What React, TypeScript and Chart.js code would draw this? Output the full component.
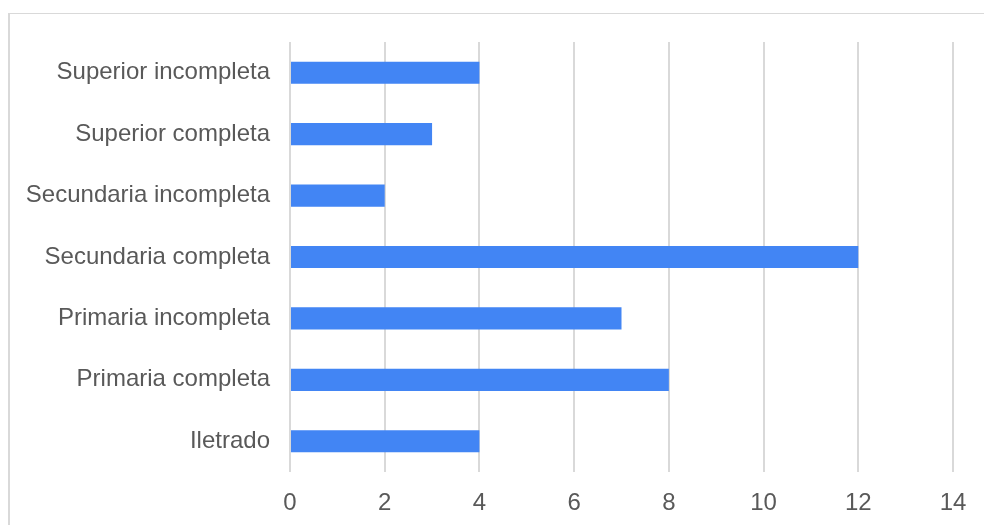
import React, { useEffect, useRef } from "react";
import { Chart, registerables } from "chart.js";

Chart.register(...registerables);

const categories = [
  "Superior incompleta",
  "Superior completa",
  "Secundaria incompleta",
  "Secundaria completa",
  "Primaria incompleta",
  "Primaria completa",
  "Iletrado",
];
const values = [4, 3, 2, 12, 7, 8, 4];
const xMin = 0;
const xMax = 14;
const xStep = 2;

const FONT = "'Liberation Sans', Arial, sans-serif";

export default function App() {
  const ref = useRef<HTMLCanvasElement | null>(null);

  useEffect(() => {
    if (!ref.current) return;
    const chart = new Chart(ref.current, {
      type: "bar",
      data: {
        labels: categories,
        datasets: [
          {
            data: values,
            backgroundColor: "#4285F4",
            borderWidth: 0,
            categoryPercentage: 1,
            barPercentage: 0.36,
          },
        ],
      },
      options: {
        indexAxis: "y",
        animation: false,
        responsive: true,
        maintainAspectRatio: false,
        layout: { padding: { top: 42, right: 31, left: 0, bottom: 0 } },
        plugins: {
          legend: { display: false },
          tooltip: { enabled: false },
          title: { display: false },
        },
        scales: {
          x: {
            min: xMin,
            max: xMax,
            border: { display: false },
            grid: { color: "#d9d9d9", lineWidth: 2, drawTicks: false },
            ticks: {
              stepSize: xStep,
              padding: 17,
              color: "#595959",
              font: { family: FONT, size: 24 },
            },
            afterFit: (scale: any) => {
              scale.height = 53;
            },
          },
          y: {
            border: { display: false },
            grid: { display: false, drawTicks: false },
            ticks: {
              padding: 20,
              color: "#595959",
              font: { family: FONT, size: 24 },
            },
            afterFit: (scale: any) => {
              scale.width = 290;
            },
          },
        },
      },
      plugins: [
        {
          id: "shiftY",
          beforeDraw: () => {},
        },
      ],
    });
    return () => chart.destroy();
  }, []);

  return (
    <>
      <div
        style={{
          position: "fixed",
          left: 8,
          top: 13,
          right: 0,
          bottom: 0,
          borderTop: "1px solid #d9d9d9",
          borderLeft: "2px solid #d9d9d9",
          boxSizing: "border-box",
        }}
      />
      <div style={{ position: "fixed", left: 0, top: 0, width: 984, height: 525 }}>
        <canvas ref={ref} />
      </div>
    </>
  );
}
